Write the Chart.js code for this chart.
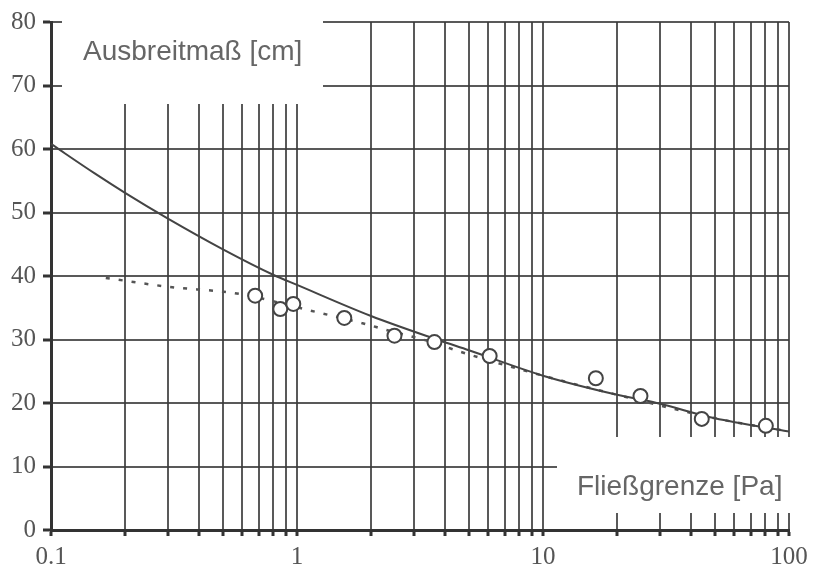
<!DOCTYPE html>
<html>
<head>
<meta charset="utf-8">
<script src="https://cdn.jsdelivr.net/npm/chart.js@4.4.1/dist/chart.umd.min.js"></script>
<style>
  html, body { margin: 0; padding: 0; background: #fff; }
  #wrap { position: relative; width: 814px; height: 568px; }
</style>
</head>
<body>
<div id="wrap"><canvas id="c" width="814" height="568"></canvas></div>
<script>
// ---- data ----
const xTickValues = [0.1,0.2,0.3,0.4,0.5,0.6,0.7,0.8,0.9,1,2,3,4,5,6,7,8,9,10,20,30,40,50,60,70,80,90,100];
const xTickLabels = {0.1: '0.1', 1: '1', 10: '10', 100: '100'};
const yTickValues = [0,10,20,30,40,50,60,70,80];

const measuredX = [0.676, 0.855, 0.966, 1.557, 2.49, 3.62, 6.07, 16.4, 24.9, 44.2, 80.5];
const measuredY = [36.9, 34.8, 35.6, 33.4, 30.6, 29.6, 27.4, 23.9, 21.1, 17.5, 16.4];

const solidX = [0.1, 0.15, 0.2, 0.3, 0.5, 0.8, 1, 2, 3.7, 5, 10, 20, 29, 50, 100, 110];
const solidY = [60.8, 56.2, 53.1, 49.0, 44.2, 40.2, 38.6, 33.7, 30.0, 28.3, 24.3, 21.3, 20.0, 17.6, 15.5, 15.2];

const dottedX = [0.167, 0.3, 0.58, 1.12, 1.83, 2.31, 3.6, 4.5, 10, 20, 50, 100, 110];
const dottedY = [39.7, 38.3, 37.2, 34.6, 32.6, 31.5, 29.5, 28.2, 24.3, 21.3, 17.6, 15.5, 15.2];

const yAxisTitle = 'Ausbreitmaß [cm]';
const xAxisTitle = 'Fließgrenze [Pa]';

const toPts = (xs, ys) => xs.map((x, i) => ({x: x, y: ys[i]}));

const GRID = 'rgba(60,60,60,0.85)';
const AXIS = '#333';

const labelBoxes = {
  id: 'labelBoxes',
  beforeDatasetsDraw(chart) {
    const ctx = chart.ctx;
    ctx.save();
    ctx.fillStyle = '#fff';
    ctx.fillRect(62, 0, 261, 104);
    ctx.fillRect(557, 437, 257, 76);
    ctx.fillStyle = '#666';
    ctx.font = '28px "Liberation Sans", Arial, sans-serif';
    ctx.textBaseline = 'alphabetic';
    ctx.textAlign = 'left';
    ctx.fillText(yAxisTitle, 83, 60);
    ctx.fillText(xAxisTitle, 577, 495);
    ctx.restore();
  }
};

new Chart(document.getElementById('c'), {
  type: 'scatter',
  data: {
    datasets: [
      {
        data: toPts(measuredX, measuredY),
        showLine: false,
        pointRadius: 7,
        pointBorderWidth: 2,
        pointBorderColor: '#444',
        pointBackgroundColor: '#fff'
      },
      {
        data: toPts(solidX, solidY),
        showLine: true,
        borderColor: '#444',
        borderWidth: 2,
        pointRadius: 0,
        cubicInterpolationMode: 'monotone',
        clip: false
      },
      {
        data: toPts(dottedX, dottedY),
        showLine: true,
        borderColor: '#555',
        borderWidth: 2.5,
        borderDash: [4, 9],
        pointRadius: 0,
        cubicInterpolationMode: 'monotone',
        clip: false
      }
    ]
  },
  options: {
    responsive: false,
    animation: false,
    layout: { padding: { top: 20, right: 25, left: 0, bottom: 0 } },
    plugins: { legend: { display: false }, tooltip: { enabled: false } },
    scales: {
      x: {
        type: 'logarithmic',
        min: 0.1,
        max: 100,
        afterBuildTicks(scale) { scale.ticks = xTickValues.map(v => ({value: v})); },
        afterFit(scale) { scale.height = 38; },
        ticks: {
          autoSkip: false,
          maxRotation: 0,
          padding: 6,
          color: '#555',
          font: { family: '"Liberation Serif", "Times New Roman", serif', size: 25 },
          callback: (v) => xTickLabels[v] !== undefined ? xTickLabels[v] : ''
        },
        grid: {
          color: (c) => (c.tick && c.tick.value === 0.1) ? 'rgba(0,0,0,0)' : GRID,
          lineWidth: 2,
          drawTicks: true,
          tickLength: 6,
          tickColor: AXIS,
          tickWidth: 3
        },
        border: { color: AXIS, width: 3 }
      },
      y: {
        type: 'linear',
        min: 0,
        max: 80,
        afterBuildTicks(scale) { scale.ticks = yTickValues.map(v => ({value: v})); },
        afterFit(scale) { scale.width = 51; },
        ticks: {
          padding: 7,
          color: '#555',
          font: { family: '"Liberation Serif", "Times New Roman", serif', size: 25 },
          callback: (v) => String(v)
        },
        grid: {
          color: (c) => (c.tick && c.tick.value === 0) ? 'rgba(0,0,0,0)' : GRID,
          lineWidth: 2,
          drawTicks: true,
          tickLength: 8,
          tickColor: AXIS,
          tickWidth: 3
        },
        border: { color: AXIS, width: 3 }
      }
    }
  },
  plugins: [labelBoxes]
});
</script>
</body>
</html>
